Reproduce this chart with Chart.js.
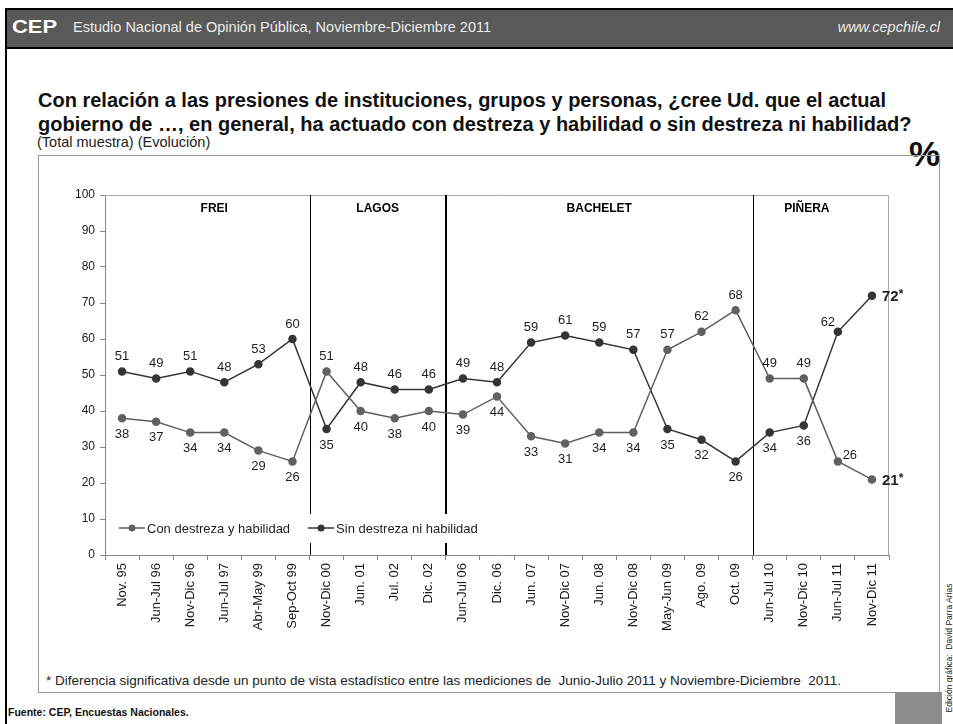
<!DOCTYPE html>
<html>
<head>
<meta charset="utf-8">
<script src="https://cdn.jsdelivr.net/npm/chart.js@4.4.0/dist/chart.umd.min.js"></script>
<style>
  body { margin: 0; width: 953px; height: 724px; position: relative; overflow: hidden; background: #fff;
         font-family: "Liberation Sans", Arial, sans-serif; color: #1a1a1a; }
  .abs { position: absolute; white-space: nowrap; }
  #bar { left: 5px; top: 8px; width: 948px; height: 37px; background: #595959; border-top: 2px solid #000; border-bottom: 2px solid #000; }
  #lline { left: 5px; top: 8px; width: 2px; height: 716px; background: #000; }
  #cep { left: 12px; top: 17px; color: #fff; font-weight: bold; font-size: 18px; transform: scaleX(1.22); transform-origin: left; }
  #estudio { left: 73px; top: 19px; color: #ececec; font-size: 14.5px; }
  #web { right: 13px; top: 19px; color: #ececec; font-size: 14.5px; font-style: italic; }
  #title { left: 38px; top: 88px; font-weight: bold; font-size: 20px; line-height: 24px; color: #111; }
  #sub { left: 37px; top: 134px; font-size: 14.5px; color: #222; }
  #pct { right: 13px; top: 134px; font-size: 35px; font-weight: bold; color: #111; }
  #box { left: 38px; top: 155px; width: 900px; height: 536px; border: 1px solid #9a9a9a; }
  #chartwrap { left: 38px; top: 156px; width: 900px; height: 510px; }
  #note { left: 46px; top: 673px; font-size: 13.5px; color: #222; }
  #fuente { left: 8px; top: 706px; font-size: 10.5px; font-weight: bold; color: #111; }
  #gray { left: 895px; top: 692px; width: 47px; height: 32px; background: #8c8c8c; }
  #side { left: 949px; top: 648px; font-size: 8.5px; color: #222; transform: translate(-50%, -50%) rotate(-90deg); }
</style>
</head>
<body>
<div id="bar" class="abs"></div>
<div id="lline" class="abs"></div>
<div id="cep" class="abs">CEP</div>
<div id="estudio" class="abs">Estudio Nacional de Opinión Pública, Noviembre-Diciembre 2011</div>
<div id="web" class="abs">www.cepchile.cl</div>
<div id="title" class="abs">Con relación a las presiones de instituciones, grupos y personas, ¿cree Ud. que el actual<br>gobierno de …, en general, ha actuado con destreza y habilidad o sin destreza ni habilidad?</div>
<div id="sub" class="abs">(Total muestra) (Evolución)</div>
<div id="pct" class="abs">%</div>
<div id="box" class="abs"></div>
<div id="chartwrap" class="abs"><canvas id="chart" width="900" height="510"></canvas></div>
<div id="note" class="abs">* Diferencia significativa desde un punto de vista estadístico entre las mediciones de&nbsp; Junio-Julio 2011 y Noviembre-Diciembre&nbsp; 2011.</div>
<div id="fuente" class="abs">Fuente: CEP, Encuestas Nacionales.</div>
<div id="gray" class="abs"></div>
<div id="side" class="abs">Edición gráfica:&nbsp; David Parra Arias</div>

<script>
const LABELS = ["Nov. 95", "Jun-Jul 96", "Nov-Dic 96", "Jun-Jul 97", "Abr-May 99", "Sep-Oct 99",
  "Nov-Dic 00", "Jun. 01", "Jul. 02", "Dic. 02",
  "Jun-Jul 06", "Dic. 06", "Jun. 07", "Nov-Dic 07", "Jun. 08", "Nov-Dic 08", "May-Jun 09", "Ago. 09", "Oct. 09",
  "Jun-Jul 10", "Nov-Dic 10", "Jun-Jul 11", "Nov-Dic 11"];
const CON = [38, 37, 34, 34, 29, 26, 51, 40, 38, 40, 39, 44, 33, 31, 34, 34, 57, 62, 68, 49, 49, 26, 21];
const SIN = [51, 49, 51, 48, 53, 60, 35, 48, 46, 46, 49, 48, 59, 61, 59, 57, 35, 32, 26, 34, 36, 62, 72];
const ERAS = ["FREI", "LAGOS", "BACHELET", "PIÑERA"];
const ERA_SIZES = [6, 4, 9, 4];
const SERIES = ["Con destreza y habilidad", "Sin destreza ni habilidad"];

const FONT = '"Liberation Sans", Arial, sans-serif';
const conCol = "#606060", sinCol = "#353535";

// separators, era names, plot frame
const eraPlugin = {
  id: "eras",
  beforeDatasetsDraw(c) {
    const { ctx, chartArea: a, scales: { x } } = c;
    ctx.save();
    ctx.strokeStyle = "#a8a8a8";
    ctx.lineWidth = 1;
    ctx.beginPath();
    ctx.moveTo(a.left, a.top + 0.5);
    ctx.lineTo(a.right - 0.5, a.top + 0.5);
    ctx.lineTo(a.right - 0.5, a.bottom);
    ctx.stroke();

    const half = (x.getPixelForValue(1) - x.getPixelForValue(0)) / 2;
    const nudge = [7, 0, 0, -14];
    let k = 0;
    ERA_SIZES.forEach((n, i) => {
      const x0 = x.getPixelForValue(k) - half;
      k += n;
      const x1 = x.getPixelForValue(k - 1) + half;
      ctx.fillStyle = "#000";
      ctx.font = "bold 12px " + FONT;
      ctx.textAlign = "center";
      ctx.textBaseline = "middle";
      ctx.fillText(ERAS[i], (x0 + x1) / 2 + nudge[i], a.top + 14);
      if (i < ERA_SIZES.length - 1) {
        const w = i === 1 ? 2 : 1;
        ctx.lineWidth = w;
        ctx.strokeStyle = "#000";
        const px = Math.round(x1) + (w === 1 ? 0.5 : 0);
        ctx.beginPath();
        ctx.moveTo(px, a.top);
        ctx.lineTo(px, a.bottom);
        ctx.stroke();
      }
    });
    ctx.restore();
  },
  afterDatasetsDraw(c) {
    const { ctx, chartArea: a, scales: { y } } = c;
    const m0 = c.getDatasetMeta(0).data, m1 = c.getDatasetMeta(1).data;
    const n = LABELS.length;
    ctx.save();
    ctx.fillStyle = "#1f1f1f";
    ctx.textBaseline = "middle";
    for (let i = 0; i < n; i++) {
      const pts = [[CON[i], m0[i]], [SIN[i], m1[i]]].sort((p, q) => q[0] - p[0]);
      const [hi, lo] = pts;
      if (i === n - 1) {
        pts.forEach(([v, p]) => {
          ctx.textAlign = "left";
          ctx.font = "bold 15px " + FONT;
          ctx.fillText(String(v), p.x + 10, p.y + 1);
          const w = ctx.measureText(String(v)).width;
          ctx.font = "bold 12px " + FONT;
          ctx.fillText("*", p.x + 10 + w, p.y - 1);
        });
      } else if (i === n - 2) {
        ctx.font = "13px " + FONT;
        ctx.textAlign = "center";
        ctx.fillText(String(hi[0]), hi[1].x - 10, hi[1].y - 9);
        ctx.fillText(String(lo[0]), lo[1].x + 12, lo[1].y - 6);
      } else {
        ctx.font = "13px " + FONT;
        ctx.textAlign = "center";
        ctx.fillText(String(hi[0]), hi[1].x, hi[1].y - 15);
        ctx.fillText(String(lo[0]), lo[1].x, lo[1].y + 16);
      }
    }

    // legend
    const ly = y.getPixelForValue(7.5);
    ctx.font = "13px " + FONT;
    ctx.fillStyle = "#fff";
    ctx.fillRect(a.left + 6, ly - 14, 384, 29);
    let lx = a.left + 14;
    [conCol, sinCol].forEach((col, i) => {
      ctx.strokeStyle = col;
      ctx.lineWidth = 1.5;
      ctx.beginPath();
      ctx.moveTo(lx, ly);
      ctx.lineTo(lx + 26, ly);
      ctx.stroke();
      ctx.fillStyle = col;
      ctx.beginPath();
      ctx.arc(lx + 13, ly, 3.5, 0, Math.PI * 2);
      ctx.fill();
      ctx.fillStyle = "#1f1f1f";
      ctx.textAlign = "left";
      ctx.fillText(SERIES[i], lx + 28, ly + 1);
      lx += 28 + ctx.measureText(SERIES[i]).width + 18;
    });
    ctx.restore();
  }
};

new Chart(document.getElementById("chart"), {
  type: "line",
  data: {
    labels: LABELS,
    datasets: [
      { label: SERIES[0], data: CON, borderColor: conCol, backgroundColor: conCol, pointBackgroundColor: conCol,
        pointBorderColor: conCol, borderWidth: 1.5, pointRadius: 3.5, tension: 0 },
      { label: SERIES[1], data: SIN, borderColor: sinCol, backgroundColor: sinCol, pointBackgroundColor: sinCol,
        pointBorderColor: sinCol, borderWidth: 1.5, pointRadius: 3.5, tension: 0 }
    ]
  },
  options: {
    responsive: false,
    animation: false,
    devicePixelRatio: 1,
    layout: { padding: { left: 0, top: 39, right: 49, bottom: 0 } },
    plugins: { legend: { display: false }, tooltip: { enabled: false } },
    scales: {
      x: {
        offset: true,
        afterFit: (s) => { s.height = 111; },
        grid: { offset: true, drawOnChartArea: false, drawTicks: true, tickLength: 5, color: "#888" },
        border: { color: "#888" },
        ticks: { autoSkip: false, minRotation: 90, maxRotation: 90, padding: 3, color: "#1a1a1a", font: { size: 13, family: FONT } }
      },
      y: {
        min: 0, max: 100,
        afterFit: (s) => { s.width = 67; },
        grid: { drawOnChartArea: false, drawTicks: true, tickLength: 5, color: "#888" },
        border: { color: "#888" },
        ticks: { stepSize: 10, padding: 5, color: "#1a1a1a", font: { size: 12, family: FONT } }
      }
    }
  },
  plugins: [eraPlugin]
});
</script>
</body>
</html>
